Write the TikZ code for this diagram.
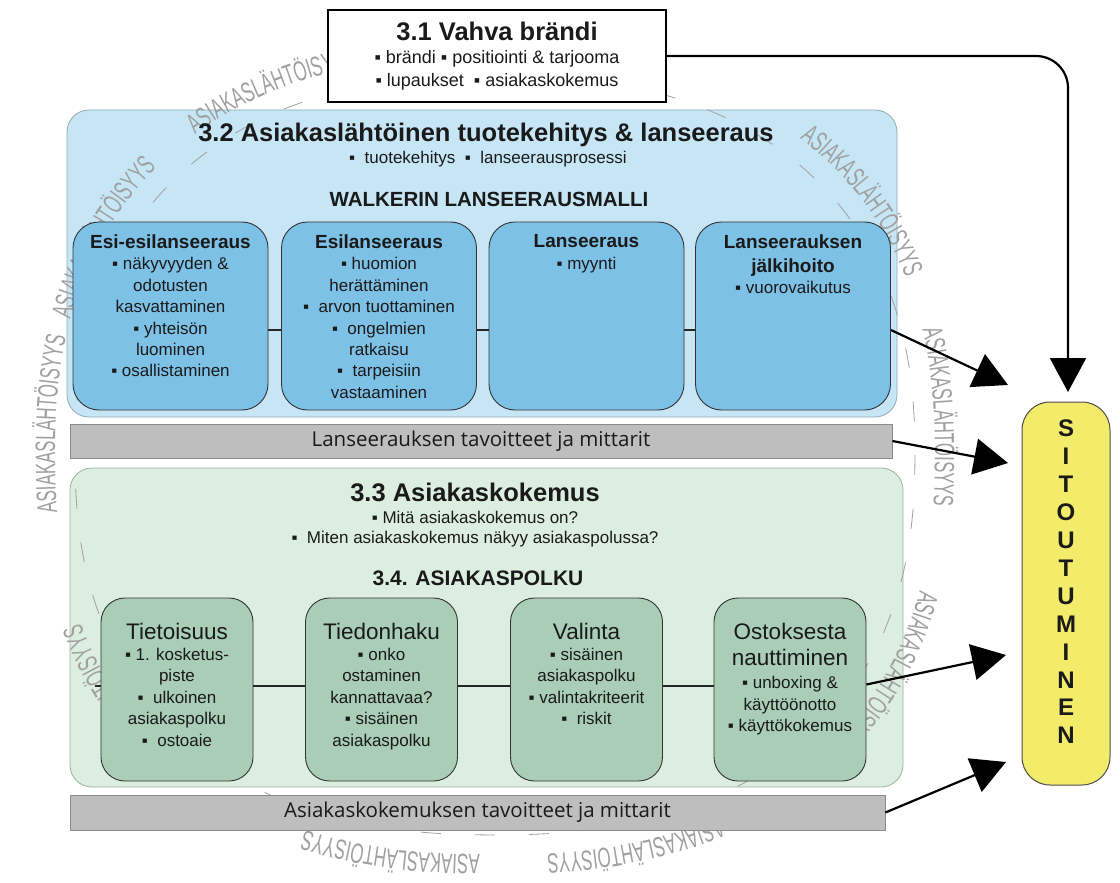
\documentclass[tikz,border=0pt]{standalone}
\usepackage{fontspec}
\setmainfont{Liberation Sans}
\newfontfamily\barfont{Open Sans}
\newfontfamily\wmfont[FakeStretch=0.6]{Liberation Sans}
\usetikzlibrary{arrows.meta,decorations.text}
\definecolor{bluebg}{HTML}{C6E6F6}
\definecolor{blueborder}{HTML}{93AAB5}
\definecolor{bluebox}{HTML}{7EC1E6}
\definecolor{greenbg}{HTML}{DCEEDF}
\definecolor{greenborder}{HTML}{9DB2A0}
\definecolor{greenbox}{HTML}{A9CDB6}
\definecolor{barfill}{HTML}{BEBEBE}
\definecolor{barborder}{HTML}{8A8A8A}
\definecolor{yellowbox}{HTML}{F3EC6B}
\definecolor{wm}{HTML}{A0A0A0}
\definecolor{ink}{HTML}{1A1A1A}
\newcommand\bluetitlefont{\bfseries\fontsize{19}{21.4}\selectfont}
\newcommand\greentitlefont{\fontsize{22.5}{21.4}\selectfont}
\begin{document}
\begin{tikzpicture}[x=1pt,y=-1pt,
  declare function={
    sqx(\t,\r)=495+\r*cos(\t)/((abs(cos(\t))+0.0001)^0.15);
    sqy(\t,\r)=455+\r*sin(\t)/((abs(sin(\t))+0.0001)^0.15);
  },
  bigbox/.style={rounded corners=22pt, line width=0.8pt, inner sep=0pt},
  bluestep/.style={draw=black!80, fill=bluebox, rounded corners=26pt, line width=0.9pt,
    minimum width=195pt, minimum height=188pt, inner sep=0pt},
  greenstep/.style={draw=black!80, fill=greenbox, rounded corners=24pt, line width=0.9pt,
    minimum width=152pt, minimum height=183pt, inner sep=0pt},
  boxtext/.style={anchor=north, align=center, inner sep=0pt, text=ink,
    font=\fontsize{17}{21.4}\selectfont},
  bar/.style={draw=barborder, fill=barfill, line width=0.8pt, inner sep=0pt, text=ink,
    font=\barfont\fontsize{20.5}{22}\selectfont},
  heading/.style={anchor=base, inner sep=0pt, text=ink, font=\bfseries\fontsize{25.5}{28}\selectfont},
  subline/.style={anchor=base, inner sep=0pt, text=ink, font=\fontsize{17}{20}\selectfont},
  link/.style={line width=1.4pt, draw=black!85},
  bigarrow/.style={line width=2.2pt, -{Triangle[length=34pt,width=36pt]}},
  wmring/.style={decorate, decoration={text along path,
    text={|\wmfont\fontsize{28}{28}\selectfont|ASIAKASLÄHTÖISYYS}, text color=wm}}
]
\useasboundingbox (0,0) rectangle (1120,883);
\fill[white] (0,0) rectangle (1120,883);

% big section boxes
\node[bigbox, draw=blueborder, fill=bluebg, minimum width=830pt, minimum height=307pt] (blue) at (482,263.5) {};
\node[bigbox, draw=greenborder, fill=greenbg, minimum width=833pt, minimum height=319pt] (green) at (486.5,627.5) {};

% watermark ring
\draw[wm, line width=0.8pt, dash pattern=on 20pt off 34pt]
  plot[domain=0:360, samples=241] ({sqx(\x,420)},{sqy(\x,380)}) -- cycle;
\foreach \a in {174.1,196.2,230.4,266,310.5,345.2,376.2,423,451.1,132}{
  \pgfmathsetmacro\b{\a+36}
  \path[wmring] plot[domain=\a:\b, samples=40] ({sqx(\x,440)},{sqy(\x,400)});
}

% 3.1
\node[draw=black, line width=1.2pt, fill=white, minimum width=338pt, minimum height=92pt,
  inner sep=0pt, align=center, text=ink, font=\fontsize{18}{23}\selectfont] (b31) at (497,56)
  {{\bfseries\fontsize{25.5}{23}\selectfont 3.1 Vahva brändi}\\ ▪ brändi ▪ positiointi \& tarjooma\\ ▪ lupaukset\ \ ▪ asiakaskokemus};

% 3.2 texts
\node[heading] (t32) at (486,142) {3.2 Asiakaslähtöinen tuotekehitys \& lanseeraus};
\node[subline] (s32) at (488,163) {▪\ \ tuotekehitys\ \ ▪\ \ lanseerausprosessi};
\node[anchor=base, inner sep=0pt, text=ink, font=\bfseries\fontsize{20.5}{24}\selectfont] (w32) at (489,206.5) {WALKERIN LANSEERAUSMALLI};

% blue step boxes
\node[bluestep] (b1) at (170.5,316) {};
\node[bluestep] (b2) at (379,316) {};
\node[bluestep] (b3) at (586.5,316) {};
\node[bluestep] (b4) at (793,316) {};
\draw[link] ([yshift=-14pt]b1.east) -- ([yshift=-14pt]b2.west);
\draw[link] ([yshift=-14pt]b2.east) -- ([yshift=-14pt]b3.west);
\draw[link] ([yshift=-14pt]b3.east) -- ([yshift=-14pt]b4.west);
\node[boxtext] (b1t) at ([yshift=-13pt]b1.north) {{\bluetitlefont Esi-esilanseeraus}\\ ▪ näkyvyyden \&\\ odotusten\\ kasvattaminen\\ ▪ yhteisön\\ luominen\\ ▪ osallistaminen};
\node[boxtext] (b2t) at ([yshift=-13pt]b2.north) {{\bluetitlefont Esilanseeraus}\\ ▪ huomion\\ herättäminen\\ ▪\ \ arvon tuottaminen\\ ▪\ \ ongelmien\\ ratkaisu\\ ▪\ \ tarpeisiin\\ vastaaminen};
\node[boxtext] (b3t) at ([yshift=-13pt]b3.north) {{\bluetitlefont Lanseeraus}\\ ▪ myynti};
\node[boxtext] (b4t) at ([yshift=-13pt]b4.north) {{\bluetitlefont Lanseerauksen}\\[2.5pt] {\bluetitlefont jälkihoito}\\ ▪ vuorovaikutus};

% bar 1
\node[bar, minimum width=822pt, minimum height=34pt] (bar1) at (481,441) {Lanseerauksen tavoitteet ja mittarit};

% 3.3 texts
\node[heading] (t33) at (475,501) {3.3 Asiakaskokemus};
\node[subline] (s33a) at (475,523) {▪ Mitä asiakaskokemus on?};
\node[subline] (s33b) at (475,543) {▪\ \ Miten asiakaskokemus näkyy asiakaspolussa?};
\node[anchor=base, inner sep=0pt, text=ink, font=\bfseries\fontsize{21}{24}\selectfont] (t34) at (478,585.5) {3.4. ASIAKASPOLKU};

% green step boxes
\node[greenstep] (g1) at (177,689.5) {};
\node[greenstep] (g2) at (381.5,689.5) {};
\node[greenstep] (g3) at (586.5,689.5) {};
\node[greenstep] (g4) at (790,689.5) {};
\coordinate (gstub) at (95,686);
\draw[link] ([yshift=3.5pt]g1.west) -- (gstub);
\draw[link] ([yshift=3.5pt]g1.east) -- ([yshift=3.5pt]g2.west);
\draw[link] ([yshift=3.5pt]g2.east) -- ([yshift=3.5pt]g3.west);
\draw[link] ([yshift=3.5pt]g3.east) -- ([yshift=3.5pt]g4.west);
\node[boxtext] (g1t) at ([yshift=-25pt]g1.north) {{\greentitlefont Tietoisuus}\\ ▪ 1. kosketus-\\ piste\\ ▪\ \ ulkoinen\\ asiakaspolku\\ ▪\ \ ostoaie};
\node[boxtext] (g2t) at ([yshift=-25pt]g2.north) {{\greentitlefont Tiedonhaku}\\ ▪ onko\\ ostaminen\\ kannattavaa?\\ ▪ sisäinen\\ asiakaspolku};
\node[boxtext] (g3t) at ([yshift=-25pt]g3.north) {{\greentitlefont Valinta}\\ ▪ sisäinen\\ asiakaspolku\\ ▪ valintakriteerit\\ ▪\ \ riskit};
\node[boxtext] (g4t) at ([yshift=-25pt]g4.north) {{\greentitlefont Ostoksesta}\\[5pt] {\greentitlefont nauttiminen}\\[2pt] ▪ unboxing \&\\ käyttöönotto\\ ▪ käyttökokemus};

% bar 2
\node[bar, minimum width=815pt, minimum height=35pt] (bar2) at (477.5,812.5) {Asiakaskokemuksen tavoitteet ja mittarit};

% SITOUTUMINEN
\node[draw=black!70, fill=yellowbox, rounded corners=28pt, minimum width=88pt, minimum height=383pt, line width=1pt] (sit) at (1066,593.5) {};
\node[align=center, inner sep=0pt, text=ink, font=\bfseries\fontsize{24}{27.9}\selectfont] (sitt) at (1066,582) {S\\I\\T\\O\\U\\T\\U\\M\\I\\N\\E\\N};

% arrows
\coordinate (tip1) at (1068,392);
\coordinate (tip2) at (1008,385);
\coordinate (tip3) at (1008,463);
\coordinate (tip4) at (1006,655);
\coordinate (tip5) at (1006,762);
\draw[bigarrow, rounded corners=32pt] (b31.east) -| (tip1);
\draw[bigarrow] ([yshift=-14pt]b4.east) -- (tip2);
\draw[bigarrow] (bar1.east) -- (tip3);
\draw[bigarrow] ([yshift=5pt]g4.east) -- (tip4);
\draw[bigarrow] (bar2.east) -- (tip5);
\end{tikzpicture}
\end{document}
